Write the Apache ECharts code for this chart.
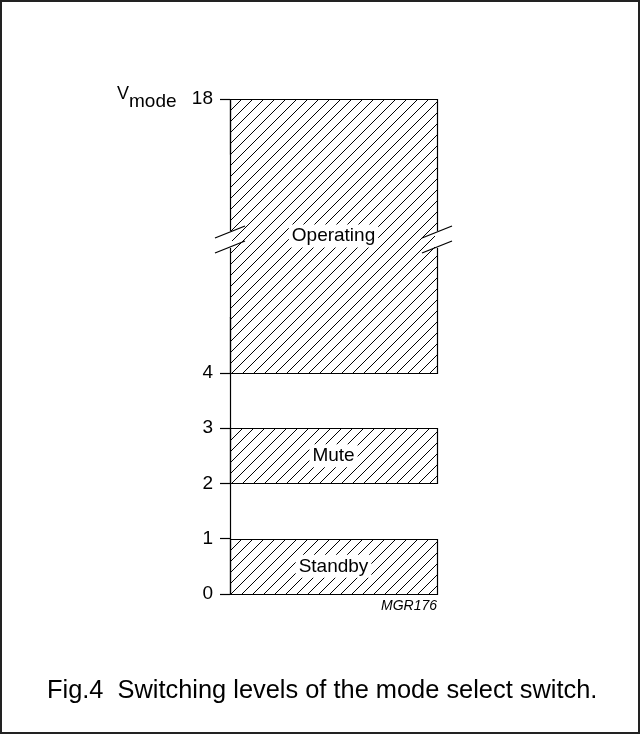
<!DOCTYPE html>
<html>
<head>
<meta charset="utf-8">
<script src="https://cdn.jsdelivr.net/npm/echarts@6.0.0/dist/echarts.min.js"></script>
<style>
  html, body { margin: 0; padding: 0; background: #fff; }
  #chart { width: 641px; height: 735px; }
</style>
</head>
<body>
<div id="chart"></div>
<script>
// switching levels
const modes = ["Standby", "Mute", "Operating"];
const lowLevels = [0, 2, 4];
const highLevels = [1, 3, 18];
const tickValues = [0, 1, 2, 3, 4, 18];
const breakStart = 5;
const breakEnd = 17;

const FONT = "Liberation Sans, Arial, sans-serif";

// diagonal "/" hatching like the datasheet drawing
function hatchPattern(size) {
    const c = document.createElement("canvas");
    c.width = size;
    c.height = size;
    const ctx = c.getContext("2d");
    ctx.strokeStyle = "#000";
    ctx.lineWidth = 1;
    ctx.beginPath();
    ctx.moveTo(0, size);
    ctx.lineTo(size, 0);
    ctx.moveTo(-1, 1);
    ctx.lineTo(1, -1);
    ctx.moveTo(size - 1, size + 1);
    ctx.lineTo(size + 1, size - 1);
    ctx.stroke();
    return { image: c, repeat: "repeat" };
}
const hatch = hatchPattern(11);

function renderItem(params, api) {
    const lo = api.coord([api.value(0), api.value(1)]);
    const hi = api.coord([api.value(0), api.value(2)]);
    const w = api.size([1, 0])[0];
    const x0 = Math.round(lo[0] - w / 2) + 0.5;
    const y0 = Math.round(hi[1]) + 0.5;
    const y1 = Math.round(lo[1]) + 0.5;
    return {
        type: "group",
        children: [
            {
                type: "rect",
                shape: { x: x0, y: y0, width: Math.round(w), height: y1 - y0 },
                style: { fill: hatch, stroke: "#000", lineWidth: 1.2 },
            },
            {
                type: "text",
                x: lo[0],
                y: (lo[1] + hi[1]) / 2,
                z2: 10,
                style: {
                    text: modes[params.dataIndex],
                    fontFamily: FONT,
                    fontSize: 19,
                    fill: "#000",
                    align: "center",
                    verticalAlign: "middle",
                    backgroundColor: "#fff",
                    padding: [2, 3],
                },
            },
        ],
    };
}

const chart = echarts.init(document.getElementById("chart"));

const options = {
    animation: false,
    backgroundColor: "#fff",
    title: {
        text: "Fig.4  Switching levels of the mode select switch.",
        left: 47,
        top: 678,
        padding: 0,
        textStyle: { fontFamily: FONT, fontSize: 25.4, fontWeight: "normal", color: "#000" },
    },
    grid: { left: 230, right: 204, top: 99, bottom: 141 },
    xAxis: { type: "category", data: ["level"], show: false },
    yAxis: {
        type: "value",
        min: 0,
        max: 18,
        breaks: [{ start: breakStart, end: breakEnd, gap: "33%" }],
        breakArea: { show: false },
        axisLine: { show: true, lineStyle: { color: "#000", width: 1.2 } },
        axisTick: { show: true, length: 10, customValues: tickValues, lineStyle: { color: "#000", width: 1.2 } },
        axisLabel: { customValues: tickValues, margin: 17, fontSize: 19, color: "#000", fontFamily: FONT },
        splitLine: { show: false },
    },
    series: [
        {
            type: "custom",
            renderItem: renderItem,
            encode: { x: 0, y: [1, 2] },
            data: modes.map((m, i) => [0, lowLevels[i], highLevels[i]]),
        },
    ],
};
chart.setOption(options);

// break marks on both edges of the operating bar
const yA = chart.convertToPixel({ yAxisIndex: 0 }, breakStart);
const yB = chart.convertToPixel({ yAxisIndex: 0 }, breakEnd);
const yMid = (yA + yB) / 2 + 4;
const xL = chart.convertToPixel({ xAxisIndex: 0 }, 0) - 207 / 2;
const xR = xL + 207;
const marks = [];
[xL, xR].forEach((x) => {
    marks.push({
        type: "line", z: 100,
        shape: { x1: x, y1: yMid - 9, x2: x, y2: yMid + 8 },
        style: { stroke: "#fff", lineWidth: 4 },
    });
    [-8, 7].forEach((dy) => {
        marks.push({
            type: "line", z: 101,
            shape: { x1: x - 15, y1: yMid + dy + 6, x2: x + 15, y2: yMid + dy - 6 },
            style: { stroke: "#000", lineWidth: 1.2 },
        });
    });
});

chart.setOption({
    graphic: [
        {
            type: "rect", z: 100,
            shape: { x: 1, y: 1, width: 638, height: 732 },
            style: { fill: null, stroke: "#222", lineWidth: 2 },
        },
        {
            type: "text", z: 100, left: 117, top: 85,
            style: { text: "V", fontFamily: FONT, fontSize: 18, fill: "#000" },
        },
        {
            type: "text", z: 100, left: 129, top: 92,
            style: { text: "mode", fontFamily: FONT, fontSize: 19, fill: "#000" },
        },
        {
            type: "text", z: 100, right: 204, top: 599,
            style: { text: "MGR176", fontFamily: FONT, fontSize: 14, fontStyle: "italic", fill: "#000" },
        },
    ].concat(marks),
});

window.addEventListener("resize", () => {
    chart.resize();
});
</script>
</body>
</html>
